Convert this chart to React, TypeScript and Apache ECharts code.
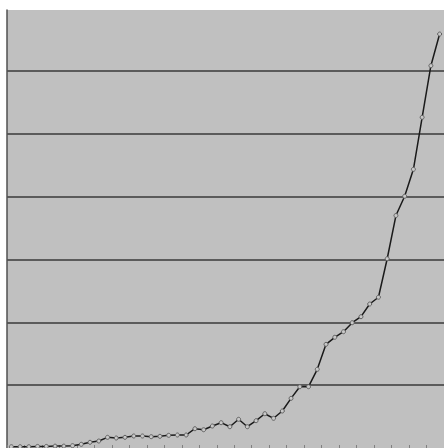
import React, { useEffect, useRef } from "react";
import * as echarts from "echarts";

const categories: string[] = Array.from({ length: 50 }, (_, i) => String(i + 1));
const values: number[] = [
  2, 2, 2, 2.5, 2.5, 3, 3, 3.7, 5.9, 9.1,
  11.1, 17.0, 15.9, 17.0, 19.1, 19.1, 18.0, 18.6, 20.2, 20.7,
  20.7, 30.7, 29.1, 35.0, 40.3, 33.9, 45.7, 33.9, 43.5, 54.6,
  47.3, 58.9, 79.1, 97.6, 97.6, 125.3, 165.1, 176.3, 185.2, 199.5,
  209.1, 229.3, 240.1, 301.4, 370.2, 400.9, 443.8, 526.6, 608.8, 659.2,
];
const yMax = 697.5;
const yInterval = 100;

export default function App() {
  const ref = useRef<HTMLDivElement>(null);
  useEffect(() => {
    if (!ref.current) return;
    const chart = echarts.init(ref.current, null, { renderer: "svg" });
    chart.setOption({
      animation: false,
      backgroundColor: "#ffffff",
      grid: {
        show: true,
        left: 7,
        top: 10,
        width: 440,
        bottom: 0,
        backgroundColor: "#c0c0c0",
        borderWidth: 0,
      },
      xAxis: {
        type: "category",
        data: categories,
        boundaryGap: true,
        axisLine: { show: false },
        axisTick: { show: true, inside: true, length: 3, lineStyle: { color: "#808080", width: 1 } },
        axisLabel: { show: false },
        splitLine: { show: false },
      },
      yAxis: {
        type: "value",
        min: 0,
        max: yMax,
        interval: yInterval,
        axisLine: { show: true, lineStyle: { color: "#505050", width: 1.5 } },
        axisTick: { show: false },
        axisLabel: { show: false },
        splitLine: {
          show: true,
          showMinLine: false,
          showMaxLine: false,
          lineStyle: { color: "#3a3a3a", width: 1.5 },
        },
      },
      series: [
        {
          type: "line",
          data: values,
          symbol: "circle",
          symbolSize: 4,
          lineStyle: { color: "#1a1a1a", width: 1.5 },
          itemStyle: { color: "#c8c8c8", borderColor: "#606060", borderWidth: 1 },
        },
      ],
    });
    return () => chart.dispose();
  }, []);
  return (
    <div
      ref={ref}
      style={{ position: "absolute", left: 0, top: 0, width: 444, height: 448 }}
    />
  );
}
